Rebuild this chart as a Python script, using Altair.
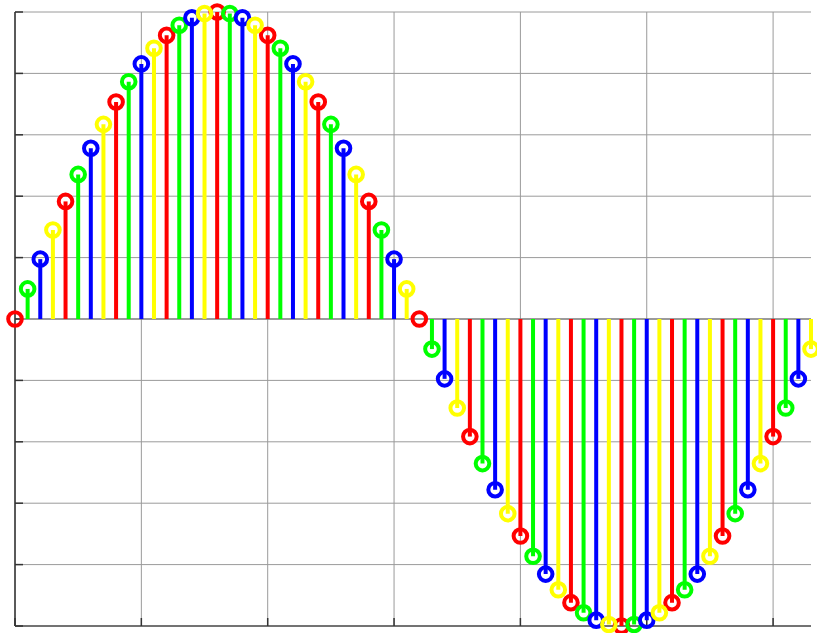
import altair as alt
import pandas as pd

# Sample index and sampled sine values (one full period, 64 samples)
n = list(range(64))
values = [
    0.000, 0.098, 0.195, 0.290, 0.383, 0.471, 0.556, 0.634,
    0.707, 0.773, 0.831, 0.882, 0.924, 0.957, 0.981, 0.995,
    1.000, 0.995, 0.981, 0.957, 0.924, 0.882, 0.831, 0.773,
    0.707, 0.634, 0.556, 0.471, 0.383, 0.290, 0.195, 0.098,
    0.000, -0.098, -0.195, -0.290, -0.383, -0.471, -0.556, -0.634,
    -0.707, -0.773, -0.831, -0.882, -0.924, -0.957, -0.981, -0.995,
    -1.000, -0.995, -0.981, -0.957, -0.924, -0.882, -0.831, -0.773,
    -0.707, -0.634, -0.556, -0.471, -0.383, -0.290, -0.195, -0.098,
]
series_names = ["s1", "s2", "s3", "s4"]
series_colors = ["#ff0000", "#00ff00", "#0000ff", "#ffff00"]

x_ticks = [0, 10, 20, 30, 40, 50, 60]
y_ticks = [-1.0, -0.8, -0.6, -0.4, -0.2, 0.0, 0.2, 0.4, 0.6, 0.8, 1.0]

W, H = 796, 614

df = pd.DataFrame({
    "n": n,
    "v": values,
    "s": [series_names[i % 4] for i in n],
})

xs = alt.Scale(domain=[0, 63], nice=False, zero=False)
ys = alt.Scale(domain=[-1, 1], nice=False)

xt_df = pd.DataFrame({"t": x_ticks})
yt_df = pd.DataFrame({"t": y_ticks})

# Grid lines
vgrid = alt.Chart(xt_df).mark_rule(color="#9a9a9a", strokeWidth=1).encode(
    x=alt.X("t:Q", scale=xs, axis=None), y=alt.value(0), y2=alt.value(H))
hgrid = alt.Chart(yt_df).mark_rule(color="#9a9a9a", strokeWidth=1).encode(
    y=alt.Y("t:Q", scale=ys, axis=None), x=alt.value(0), x2=alt.value(W))

# Baseline at zero
base_df = pd.DataFrame({"y0": [0.0]})
baseline = alt.Chart(base_df).mark_rule(color="#6a6a6a", strokeWidth=1.2).encode(
    y=alt.Y("y0:Q", scale=ys, axis=None), x=alt.value(0), x2=alt.value(W))

# Axis lines on the left and bottom, with inward tick marks
left_axis = alt.Chart(base_df).mark_rule(color="#333333", strokeWidth=1.5).encode(
    x=alt.value(0), y=alt.value(0), y2=alt.value(H))
bottom_axis = alt.Chart(base_df).mark_rule(color="#555555", strokeWidth=1.5).encode(
    y=alt.value(H), x=alt.value(0), x2=alt.value(W))
left_ticks = alt.Chart(yt_df).mark_rule(color="#333333", strokeWidth=1.5).encode(
    y=alt.Y("t:Q", scale=ys, axis=None), x=alt.value(0), x2=alt.value(8))
bottom_ticks = alt.Chart(xt_df).mark_rule(color="#333333", strokeWidth=1.5).encode(
    x=alt.X("t:Q", scale=xs, axis=None), y=alt.value(H), y2=alt.value(H - 8))

layers = [vgrid, hgrid, baseline, left_axis, bottom_axis, left_ticks, bottom_ticks]

# Stems and open circle markers, one series per color
for name, col in zip(series_names, series_colors):
    part = alt.Chart(df).transform_filter(alt.datum.s == name)
    stems = part.mark_rule(color=col, strokeWidth=4).encode(
        x=alt.X("n:Q", scale=xs, axis=None),
        y=alt.Y("v:Q", scale=ys, axis=None),
        y2=alt.datum(0),
    )
    marks = part.mark_point(shape="circle", filled=False, color=col,
                            strokeWidth=4, size=185, opacity=1).encode(
        x=alt.X("n:Q", scale=xs, axis=None),
        y=alt.Y("v:Q", scale=ys, axis=None),
    )
    layers += [stems, marks]

chart = alt.layer(*layers).properties(
    width=W, height=H,
    background="white",
    autosize=alt.AutoSizeParams(type="none"),
    padding={"left": 15, "top": 12, "right": 6, "bottom": 7},
).configure_view(stroke="transparent", strokeWidth=0)

chart.save("out.html", embed_options={"renderer": "svg", "actions": False})
